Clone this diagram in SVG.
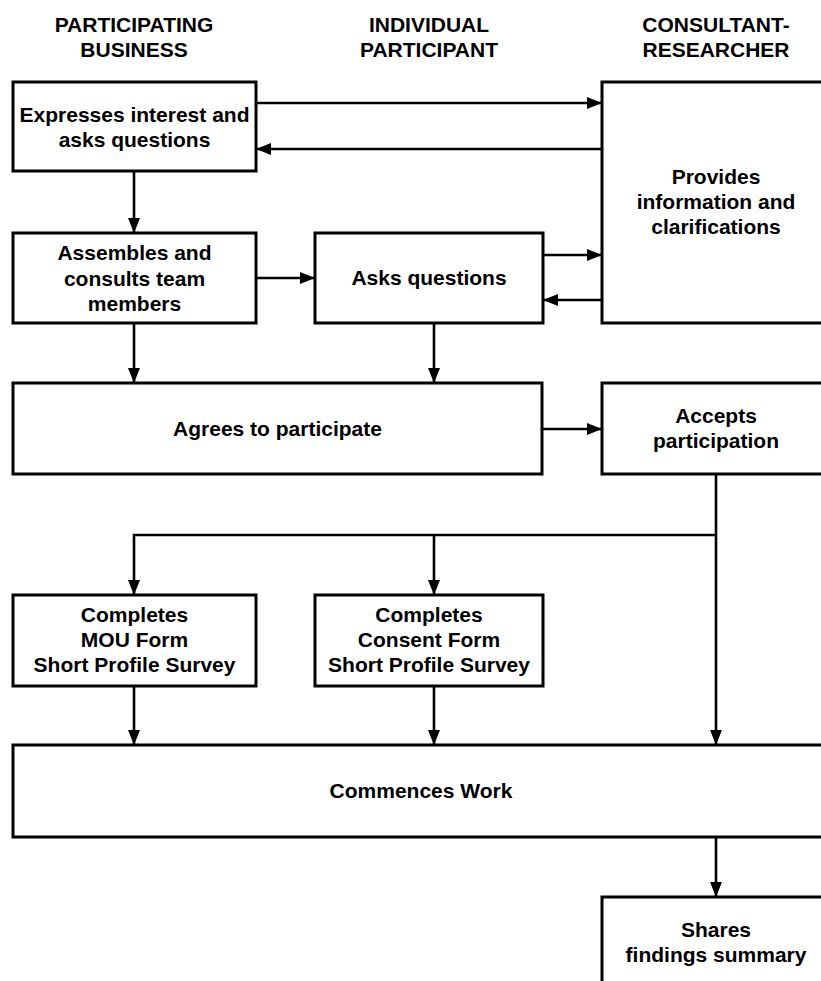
<svg xmlns="http://www.w3.org/2000/svg" width="821" height="981" viewBox="0 0 821 981">
<style>
.box{fill:#fff;stroke:#000;stroke-width:3}
.t{font-family:"Liberation Sans",Arial,sans-serif;font-weight:bold;font-size:21px;text-anchor:middle;fill:#000}
.h{font-family:"Liberation Sans",Arial,sans-serif;font-weight:bold;font-size:21px;text-anchor:middle;fill:#000}
.c{fill:none;stroke:#000;stroke-width:2.6}
</style>
<defs>
<marker id="ah" markerUnits="userSpaceOnUse" markerWidth="16" markerHeight="12" refX="15" refY="6" orient="auto">
<path d="M0,0 L15,6 L0,12 z" fill="#000"/>
</marker>
</defs>
<rect width="821" height="981" fill="#fff"/>
<g id="headers">
<text class="h" x="134" y="32">PARTICIPATING</text>
<text class="h" x="134" y="57">BUSINESS</text>
<text class="h" x="429" y="32">INDIVIDUAL</text>
<text class="h" x="429" y="57">PARTICIPANT</text>
<text class="h" x="716" y="32">CONSULTANT-</text>
<text class="h" x="716" y="57">RESEARCHER</text>
</g>
<g id="connectors">
<path class="c" d="M256,103 H602" marker-end="url(#ah)"/>
<path class="c" d="M602,149 H256" marker-end="url(#ah)"/>
<path class="c" d="M134,171 V233" marker-end="url(#ah)"/>
<path class="c" d="M256,278 H315" marker-end="url(#ah)"/>
<path class="c" d="M543,255 H602" marker-end="url(#ah)"/>
<path class="c" d="M602,300 H543" marker-end="url(#ah)"/>
<path class="c" d="M134,323 V383" marker-end="url(#ah)"/>
<path class="c" d="M434,323 V383" marker-end="url(#ah)"/>
<path class="c" d="M542,429 H602" marker-end="url(#ah)"/>
<path class="c" d="M716,474 V745" marker-end="url(#ah)"/>
<path class="c" d="M716,535 H134 V595" marker-end="url(#ah)"/>
<path class="c" d="M434,535 V595" marker-end="url(#ah)"/>
<path class="c" d="M134,686 V745" marker-end="url(#ah)"/>
<path class="c" d="M434,686 V745" marker-end="url(#ah)"/>
<path class="c" d="M716,837 V897" marker-end="url(#ah)"/>
</g>
<g id="expresses">
<rect class="box" x="13" y="82" width="243" height="89"/>
<text class="t" x="134.5" y="122">Expresses interest and</text>
<text class="t" x="134.5" y="147">asks questions</text>
</g>
<g id="provides">
<rect class="box" x="602" y="82" width="228" height="241"/>
<text class="t" x="716" y="184">Provides</text>
<text class="t" x="716" y="209">information and</text>
<text class="t" x="716" y="234">clarifications</text>
</g>
<g id="assembles">
<rect class="box" x="13" y="233" width="243" height="90"/>
<text class="t" x="134.5" y="260">Assembles and</text>
<text class="t" x="134.5" y="285.5">consults team</text>
<text class="t" x="134.5" y="311">members</text>
</g>
<g id="asks">
<rect class="box" x="315" y="233" width="228" height="90"/>
<text class="t" x="429" y="285">Asks questions</text>
</g>
<g id="agrees">
<rect class="box" x="13" y="383" width="529" height="91"/>
<text class="t" x="277.5" y="436">Agrees to participate</text>
</g>
<g id="accepts">
<rect class="box" x="602" y="383" width="228" height="91"/>
<text class="t" x="716" y="423">Accepts</text>
<text class="t" x="716" y="448">participation</text>
</g>
<g id="mou">
<rect class="box" x="13" y="595" width="243" height="91"/>
<text class="t" x="134.5" y="622">Completes</text>
<text class="t" x="134.5" y="647">MOU Form</text>
<text class="t" x="134.5" y="672">Short Profile Survey</text>
</g>
<g id="consent">
<rect class="box" x="315" y="595" width="228" height="91"/>
<text class="t" x="429" y="622">Completes</text>
<text class="t" x="429" y="647">Consent Form</text>
<text class="t" x="429" y="672">Short Profile Survey</text>
</g>
<g id="commences">
<rect class="box" x="13" y="745" width="817" height="92"/>
<text class="t" x="421" y="798">Commences Work</text>
</g>
<g id="shares">
<rect class="box" x="602" y="897" width="228" height="91"/>
<text class="t" x="716" y="937">Shares</text>
<text class="t" x="716" y="962">findings summary</text>
</g>
</svg>
